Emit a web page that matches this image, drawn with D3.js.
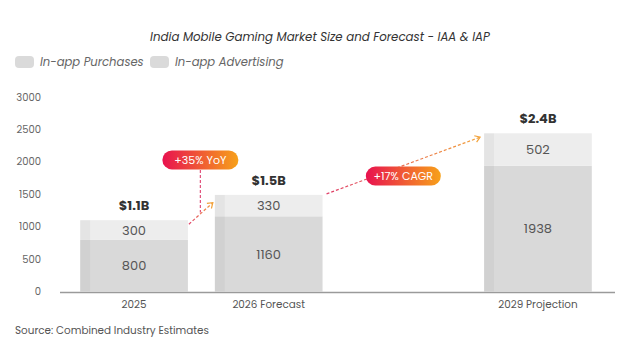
<!DOCTYPE html>
<html>
<head>
<meta charset="utf-8">
<script src="https://cdn.jsdelivr.net/npm/d3@7"></script>
<style>
  body { margin: 0; background: #fff; }
  svg { display: block; font-family: Poppins, "Noto Sans", "Open Sans", sans-serif; }
</style>
</head>
<body>
<svg id="chart" width="632" height="352"></svg>
<script>
// data
const categories = ['2025', '2026 Forecast', '', '2029 Projection'];
const iapValues = [800, 1160, null, 1938];  // In-app Purchases
const iaaValues = [300, 330, null, 502];    // In-app Advertising
const totalLabels = ['$1.1B', '$1.5B', '', '$2.4B'];
const yTicks = [0, 500, 1000, 1500, 2000, 2500, 3000];
const seriesNames = ['In-app Purchases', 'In-app Advertising'];

const width = 632, height = 352;
const margin = { top: 97, right: 17, bottom: 60, left: 60 };

const svg = d3.select('#chart');

const x = d3.scaleBand()
  .domain(categories.map((d, i) => i))
  .range([margin.left, width - margin.right - 3])
  .paddingInner(0.2)
  .paddingOuter(0.15);

const y = d3.scaleLinear()
  .domain([0, 3000])
  .range([height - margin.bottom - 0.5, margin.top]);

// gradient for badges and arrows
const defs = svg.append('defs');
const grad = defs.append('linearGradient').attr('id', 'badgeGrad');
grad.append('stop').attr('offset', '0%').attr('stop-color', '#e8124f');
grad.append('stop').attr('offset', '100%').attr('stop-color', '#f7a11a');

const lineGrad = defs.append('linearGradient').attr('id', 'lineGrad')
  .attr('gradientUnits', 'objectBoundingBox');
lineGrad.append('stop').attr('offset', '0%').attr('stop-color', '#e0406a');
lineGrad.append('stop').attr('offset', '100%').attr('stop-color', '#f2a23a');

// title
svg.append('text')
  .attr('x', 320).attr('y', 41)
  .attr('text-anchor', 'middle')
  .attr('font-size', 11.8)
  .attr('font-style', 'italic')
  .attr('fill', '#333')
  .text('India Mobile Gaming Market Size and Forecast - IAA & IAP');

// legend
const legend = svg.append('g').attr('transform', 'translate(15,56)');
const legendX = [0, 135];
seriesNames.forEach((name, i) => {
  const g = legend.append('g').attr('transform', `translate(${legendX[i]},0)`);
  g.append('rect').attr('width', 19).attr('height', 12).attr('rx', 4)
    .attr('fill', '#dadada');
  g.append('text').attr('x', 25).attr('y', 10)
    .attr('font-size', 11.6).attr('font-style', 'italic').attr('fill', '#666')
    .text(name);
});

// y axis labels (no line)
svg.append('g')
  .selectAll('text')
  .data(yTicks)
  .join('text')
  .attr('x', 41)
  .attr('y', d => y(d))
  .attr('dy', '0.35em')
  .attr('text-anchor', 'end')
  .attr('font-size', 10)
  .attr('fill', '#666')
  .text(d => d);

// bars
const bars = svg.append('g');
categories.forEach((c, i) => {
  if (iapValues[i] == null) return;
  const x0 = x(i), bw = x.bandwidth();
  const total = iapValues[i] + iaaValues[i];
  // lower segment (purchases)
  bars.append('rect')
    .attr('x', x0).attr('y', y(iapValues[i]))
    .attr('width', bw).attr('height', y(0) - y(iapValues[i]))
    .attr('fill', '#d9d9d9');
  // upper segment (advertising)
  bars.append('rect')
    .attr('x', x0).attr('y', y(total))
    .attr('width', bw).attr('height', y(iapValues[i]) - y(total))
    .attr('fill', '#ededed');
  // darker left edge
  bars.append('rect')
    .attr('x', x0).attr('y', y(total))
    .attr('width', 10).attr('height', y(0) - y(total))
    .attr('fill', '#000').attr('opacity', 0.035);

  const cx = x0 + bw / 2;
  bars.append('text')
    .attr('x', cx).attr('y', (y(iapValues[i]) + y(total)) / 2)
    .attr('dy', '0.36em').attr('text-anchor', 'middle')
    .attr('font-size', 13).attr('fill', '#555')
    .text(iaaValues[i]);
  bars.append('text')
    .attr('x', cx).attr('y', (y(0) + y(iapValues[i])) / 2)
    .attr('dy', '0.36em').attr('text-anchor', 'middle')
    .attr('font-size', 13).attr('fill', '#555')
    .text(iapValues[i]);
  bars.append('text')
    .attr('x', cx).attr('y', y(total) - 10)
    .attr('text-anchor', 'middle')
    .attr('font-size', 13).attr('font-weight', 'bold').attr('fill', '#333')
    .text(totalLabels[i]);
});

// x axis
svg.append('line')
  .attr('x1', margin.left).attr('x2', width - margin.right)
  .attr('y1', y(0) + 1).attr('y2', y(0) + 1)
  .attr('stroke', '#9a9a9a').attr('stroke-width', 1.5);

svg.append('g')
  .selectAll('text')
  .data(categories)
  .join('text')
  .attr('x', (d, i) => x(i) + x.bandwidth() / 2)
  .attr('y', y(0) + 16)
  .attr('text-anchor', 'middle')
  .attr('font-size', 10.4)
  .attr('fill', '#555')
  .text(d => d);

// source
svg.append('text')
  .attr('x', 15).attr('y', 334)
  .attr('font-size', 10.4).attr('fill', '#555')
  .text('Source: Combined Industry Estimates');

// annotations
function arrow(x1, y1, x2, y2) {
  const g = svg.append('g');
  g.append('line')
    .attr('x1', x1).attr('y1', y1).attr('x2', x2).attr('y2', y2)
    .attr('stroke', 'url(#lineGrad)').attr('stroke-width', 1.2)
    .attr('stroke-dasharray', '3,2');
  const ang = Math.atan2(y2 - y1, x2 - x1);
  const L = 6;
  const p = a => [x2 - L * Math.cos(ang + a), y2 - L * Math.sin(ang + a)];
  g.append('path')
    .attr('d', `M${p(0.6)}L${x2},${y2}L${p(-0.6)}`)
    .attr('fill', 'none').attr('stroke', '#f2a23a').attr('stroke-width', 1.2);
}

function badge(cx, cy, w, label) {
  const g = svg.append('g').attr('transform', `translate(${cx - w / 2},${cy - 9.5})`);
  g.append('rect').attr('width', w).attr('height', 19).attr('rx', 9.5)
    .attr('fill', 'url(#badgeGrad)');
  g.append('text').attr('x', w / 2).attr('y', 9.5).attr('dy', '0.36em')
    .attr('text-anchor', 'middle').attr('font-size', 11).attr('fill', '#fff')
    .text(label);
}

// YoY: 2025 -> 2026
const tot0 = iapValues[0] + iaaValues[0];
const tot1 = iapValues[1] + iaaValues[1];
const tot3 = iapValues[3] + iaaValues[3];
const yoyX = (x(0) + x.bandwidth() + x(1)) / 2 - 1;
svg.append('line')
  .attr('x1', yoyX).attr('x2', yoyX)
  .attr('y1', y(2030) + 10).attr('y2', y(1220))
  .attr('stroke', '#e0507a').attr('stroke-width', 1.2)
  .attr('stroke-dasharray', '3,2');
arrow(x(0) + x.bandwidth() + 1, y(tot0) + 4, x(1) - 2, y(tot0 + 270));
badge(yoyX, y(2030), 76, '+35% YoY');

// CAGR: 2026 -> 2029
arrow(x(1) + x.bandwidth() + 4, y(tot1) - 1, x(3) - 4, y(tot3 - 60));
badge(x(2) + x.bandwidth() / 2, y(1780), 75, '+17% CAGR');
</script>
</body>
</html>
